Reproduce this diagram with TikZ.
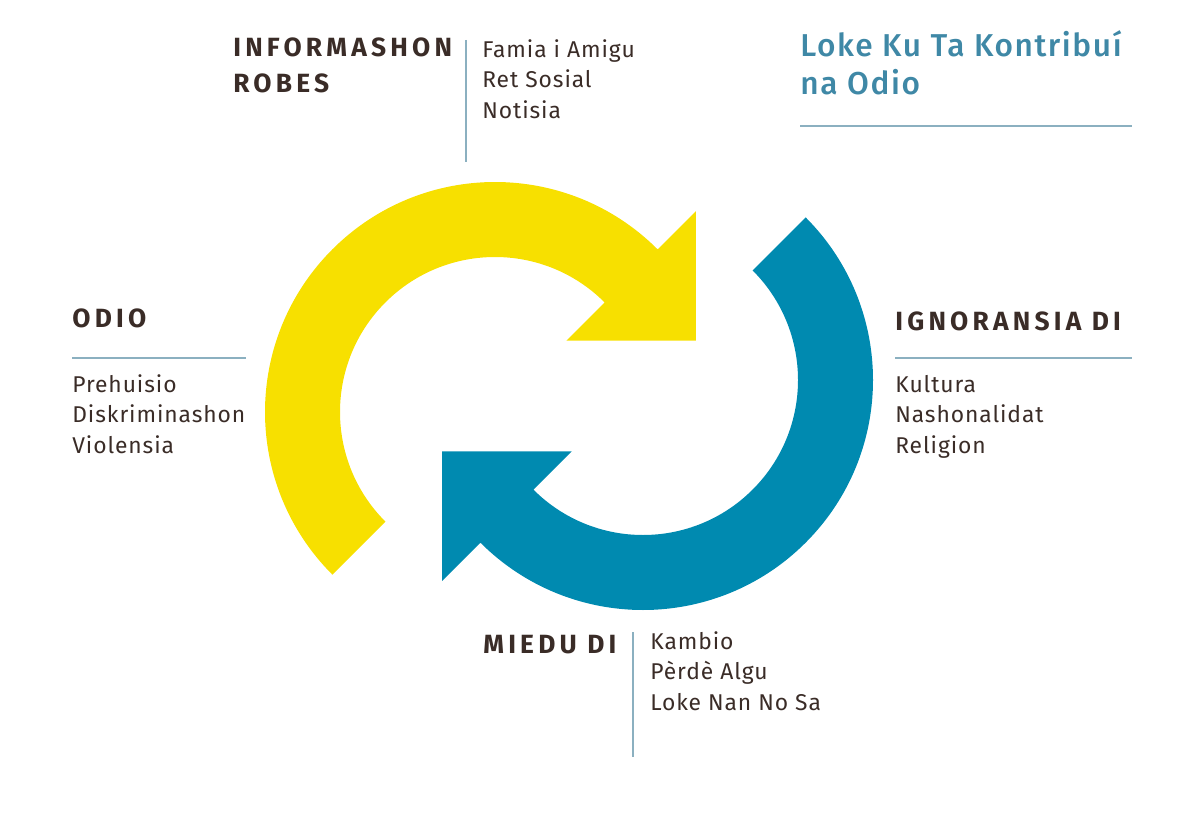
\documentclass[tikz,border=0pt]{standalone}
\usepackage{fontspec}
\setmainfont{Fira Sans}
\newfontfamily\bodyfont[LetterSpace=4]{Fira Sans}
\newfontfamily\headfont[LetterSpace=16]{Fira Sans}
\newfontfamily\titlefont[LetterSpace=5]{Fira Sans Medium}
\usetikzlibrary{calc}
\definecolor{arrowyellow}{HTML}{F7E000}
\definecolor{arrowblue}{HTML}{008AB0}
\definecolor{textbrown}{HTML}{3A2C27}
\definecolor{rulegray}{HTML}{8BB0C0}
\definecolor{titleblue}{HTML}{3F88A6}
\tikzset{
  body/.style={anchor=base west,inner sep=0,text=textbrown,font=\bodyfont\fontsize{13}{15}\selectfont},
  head/.style={anchor=base west,inner sep=0,text=textbrown,font=\headfont\bfseries\fontsize{15}{17}\selectfont},
  heading/.style={anchor=base west,inner sep=0,text=titleblue,font=\titlefont\fontsize{18}{21}\selectfont},
  rule/.style={draw=rulegray,line width=0.9pt}
}
\begin{document}
\begin{tikzpicture}[x=0.02cm,y=-0.02cm]
  \useasboundingbox (0,0) rectangle (1200,821);
  \coordinate (yc) at (495,412);
  \coordinate (bc) at (643,380);
  \fill[arrowyellow] ($(yc)+(135:230)$) arc[start angle=135,end angle=315,radius=230]
     -- ($(yc)+(315:284)$) -- ($(yc)+(315:192.5)+(45:91.5)$) -- ($(yc)+(315:101)$)
     -- ($(yc)+(315:155)$) arc[start angle=315,end angle=135,radius=155] -- cycle;
  \fill[arrowblue] ($(bc)+(-45:230)$) arc[start angle=-45,end angle=135,radius=230]
     -- ($(bc)+(135:284)$) -- ($(bc)+(135:192.5)+(225:91.5)$) -- ($(bc)+(135:101)$)
     -- ($(bc)+(135:155)$) arc[start angle=135,end angle=-45,radius=155] -- cycle;

  \node[heading] (title1) at (800,57) {Loke Ku Ta Kontribuí};
  \node[heading] (title2) at (800,94) {na Odio};
  \coordinate (tl) at (800,126);
  \coordinate (tr) at (1132,126);
  \draw[rule] (tl) -- (tr);

  \node[head] (info1) at (233,57) {INFORMASHON};
  \node[head] (info2) at (233,92) {ROBES};
  \coordinate (it) at (466,40);
  \coordinate (ib) at (466,162);
  \draw[rule] (it) -- (ib);
  \foreach \t [count=\i from 0] in {Famia i Amigu,Ret Sosial,Notisia}
    \node[body] (inf\i) at (482,58+30*\i) {\t};

  \node[head] (odio) at (72,327) {ODIO};
  \coordinate (ol) at (72,358);
  \coordinate (or) at (246,358);
  \draw[rule] (ol) -- (or);
  \foreach \t [count=\i from 0] in {Prehuisio,Diskriminashon,Violensia}
    \node[body] (odi\i) at (72,392+30.5*\i) {\t};

  \node[head] (ign) at (895,330) {IGNORANSIA DI};
  \coordinate (gl) at (895,358);
  \coordinate (gr) at (1132,358);
  \draw[rule] (gl) -- (gr);
  \foreach \t [count=\i from 0] in {Kultura,Nashonalidat,Religion}
    \node[body] (ign\i) at (895,392+30.5*\i) {\t};

  \node[head] (mie) at (483,653) {MIEDU DI};
  \coordinate (mt) at (633,632);
  \coordinate (mb) at (633,757);
  \draw[rule] (mt) -- (mb);
  \foreach \t [count=\i from 0] in {Kambio,Pèrdè Algu,Loke Nan No Sa}
    \node[body] (mie\i) at (650,649+30.5*\i) {\t};
\end{tikzpicture}
\end{document}
